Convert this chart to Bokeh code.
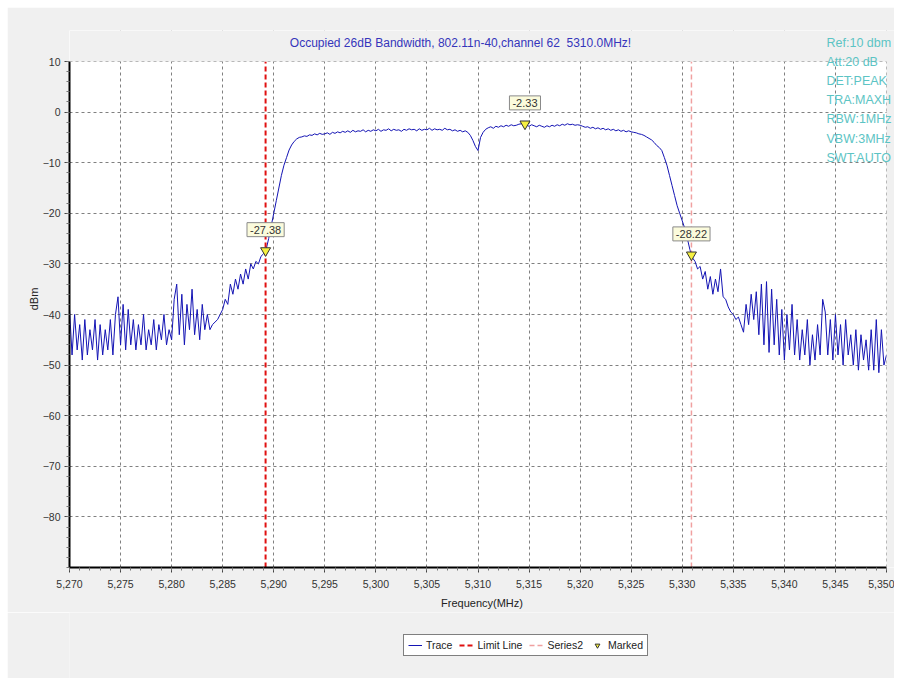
import numpy as np
from bokeh.plotting import figure
from bokeh.layouts import column
from bokeh.models import (Range1d, FixedTicker, NumeralTickFormatter, Label, Legend,
                          LegendItem, ColumnDataSource, BoxAnnotation)
from bokeh.embed import file_html
from bokeh.resources import INLINE

FONT = "Liberation Sans"

# ---- data -------------------------------------------------------------
title_text = "Occupied 26dB Bandwidth, 802.11n-40,channel 62\u00a0\u00a05310.0MHz!"
settings = ["Ref:10 dbm", "Att:20 dB", "DET:PEAK", "TRA:MAXH", "RBW:1MHz", "VBW:3MHz", "SWT:AUTO"]

f_start, f_step = 5270.0, 0.25  # sweep: 5270 .. 5350 MHz
trace_dbm = [
    # 5270.00 - 5274.75
    -39, -48, -40, -47, -42, -49, -41, -48, -43, -47, -41, -49, -42, -48, -43, -47, -41, -48, -40, -36.5,
    # 5275.00 - 5279.75
    -46, -38, -47, -39, -46, -41, -47, -42, -46, -40, -47, -43, -46, -41, -47, -42, -45, -40, -46, -43,
    # 5280.00 - 5284.75
    -45, -37, -34, -44, -36, -46, -38, -43, -35, -44, -39, -45, -38, -43, -40, -43, -42, -41.5, -41, -40,
    # 5285.00 - 5289.75
    -39, -37, -38, -34, -36, -33, -35, -32, -34, -31, -33, -30, -31, -29.5, -30, -28.5, -28, -27.2, -25, -22.5,
    # 5290.00 - 5294.75
    -20, -17.5, -15, -12.5, -10.5, -9, -7.5, -6.5, -5.8, -5.3, -5.0, -4.9, -4.7, -4.8, -4.5, -4.6, -4.3, -4.5, -4.2, -4.4,
    # 5295.00 - 5299.75
    -4.3, -4.1, -4.4, -4.0, -4.2, -3.9, -4.1, -3.8, -4.0, -3.7, -4.0, -3.6, -3.9, -3.7, -3.8, -3.5, -3.9, -3.6, -3.8, -3.5,
    # 5300.00 - 5304.75
    -3.7, -3.4, -3.8, -3.5, -3.6, -3.3, -3.7, -3.4, -3.6, -3.5, -3.8, -3.4, -3.6, -3.3, -3.5, -3.4, -3.7, -3.3, -3.6, -3.4,
    # 5305.00 - 5309.75
    -3.5, -3.2, -3.6, -3.3, -3.5, -3.4, -3.6, -3.2, -3.5, -3.4, -3.7, -3.5, -3.8, -3.6, -3.9, -3.7, -4.0, -4.6, -5.6, -6.8,
    # 5310.00 - 5314.75
    -7.6, -5.0, -4.0, -3.4, -3.1, -2.9, -3.2, -2.8, -3.0, -2.7, -2.9, -2.6, -2.8, -2.5, -2.7, -2.6, -2.4, -2.3, -2.5, -2.6,
    # 5315.00 - 5319.75
    -2.8, -2.5, -2.7, -2.9, -2.6, -2.8, -3.0, -2.7, -2.9, -2.6, -2.8, -2.5, -2.7, -2.4, -2.6, -2.3, -2.5, -2.4, -2.6, -2.5,
    # 5320.00 - 5324.75
    -2.6, -2.8, -3.0, -2.9, -3.2, -3.0, -3.3, -3.1, -3.4, -3.2, -3.5, -3.3, -3.6, -3.4, -3.7, -3.5, -3.8, -3.6, -3.9, -3.7,
    # 5325.00 - 5329.75
    -3.9, -4.0, -4.1, -4.3, -4.4, -4.6, -4.9, -5.2, -5.5, -6.0, -6.6, -7.0, -7.6, -9.0, -10.5, -12.5, -14.5, -16.5, -18.5, -20,
    # 5330.00 - 5334.75
    -21.5, -23, -25, -27.2, -28.8, -29.5, -31, -30.5, -33, -31.5, -35, -32.5, -36, -33, -35.5, -31, -36.5, -37, -38.5, -39.5,
    # 5335.00 - 5339.75
    -40, -41, -40.5, -42, -43.5, -38, -42, -36, -41, -35.5, -44, -34, -46, -33.5, -47.5, -35, -46, -37, -48, -39,
    # 5340.00 - 5344.75
    -49, -40, -47, -38, -48, -41, -49, -43, -48, -41, -50, -44, -49, -42, -48, -37, -39.5, -48, -41, -49,
    # 5345.00 - 5349.75
    -40, -48, -42, -50, -41, -48, -44, -50, -43, -51, -44, -49, -45, -51, -43, -51, -41, -51.5, -43, -50,
    # 5350.00
    -48,
]
trace_freq = f_start + f_step * np.arange(len(trace_dbm))

limit_freq = [5289.2]          # red dashed limit line
series2_freq = [5330.9]        # pink dashed line
marker_freq = [5289.2, 5314.6, 5330.9]
marker_dbm = [-27.38, -2.33, -28.22]
marker_text = ["-27.38", "-2.33", "-28.22"]
legend_labels = ["Trace", "Limit Line", "Series2", "Marked"]

x_lo, x_hi = 5270, 5350
y_lo, y_hi = -90, 10
x_ticks = list(range(5270, 5351, 5))
x_minor = list(range(5270, 5351, 1))
y_ticks = list(range(-80, 11, 10))
y_minor = list(range(-90, 11, 2))

# ---- styles -------------------------------------------------------------
GREY = "#f0f0f0"
TRACE_STYLE = dict(line_color="#1414b4", line_width=1)
LIMIT_STYLE = dict(line_color="#e01010", line_width=2, line_dash="5 3")
S2_STYLE = dict(line_color="#f0a0a0", line_width=1.5, line_dash="5 3")
MARK_STYLE = dict(marker="inverted_triangle", size=10, fill_color="#f6f040",
                  line_color="#333333", line_width=1)

# ---- layout (pixels) ----------------------------------------------------
PLOT_W, PLOT_H = 817, 506          # white plotting area
TOP_PAD, RIGHT_PAD = 31, 8          # grey strip inside the frame (title / settings)
LEFT_B, TOP_B, BOT_B = 62, 23, 45
y_top = y_hi + TOP_PAD * (y_hi - y_lo) / PLOT_H
x_right = x_hi + RIGHT_PAD * (x_hi - x_lo) / PLOT_W
FIG_W = LEFT_B + PLOT_W + RIGHT_PAD

p = figure(width=FIG_W, height=TOP_B + TOP_PAD + PLOT_H + BOT_B,
           output_backend="svg", toolbar_location=None,
           x_range=Range1d(x_lo, x_right), y_range=Range1d(y_lo, y_top),
           min_border_left=LEFT_B, min_border_right=0, min_border_top=TOP_B,
           min_border_bottom=BOT_B)
p.background_fill_color = "white"
p.border_fill_color = GREY
p.outline_line_color = None

for ax in (p.xaxis[0], p.yaxis[0]):
    ax.axis_line_width = 2
    ax.axis_line_color = "black"
    ax.major_tick_line_color = "#444444"
    ax.minor_tick_line_color = "#777777"
    ax.major_tick_out = 5
    ax.major_tick_in = 0
    ax.minor_tick_out = 3
    ax.minor_tick_in = 0
    ax.major_label_text_font = FONT
    ax.major_label_text_font_size = "10.5px"
    ax.major_label_text_color = "#333333"
    ax.axis_label_text_font = FONT
    ax.axis_label_text_font_size = "11px"
    ax.axis_label_text_font_style = "normal"
    ax.axis_label_text_color = "#222222"

p.xaxis.bounds = (x_lo, x_hi)
p.yaxis.bounds = (y_lo, y_hi)
p.xaxis.ticker = FixedTicker(ticks=x_ticks, minor_ticks=x_minor)
p.xaxis.formatter = NumeralTickFormatter(format="0,0")
p.xaxis.axis_label = "Frequency(MHz)"
p.xaxis.axis_label_standoff = 6
p.xaxis.major_label_standoff = 7
p.yaxis.ticker = FixedTicker(ticks=y_ticks, minor_ticks=y_minor)
p.yaxis.axis_label = "dBm"
p.yaxis.axis_label_standoff = 0
p.yaxis.major_label_standoff = 4

for g in (p.xgrid[0], p.ygrid[0]):
    g.grid_line_color = "#808080"
    g.grid_line_dash = "3 3"
    g.grid_line_width = 1

# grey strips (outside the 10 dBm / 5350 MHz limits) inside the frame
p.add_layout(BoxAnnotation(bottom=y_hi, fill_color=GREY, fill_alpha=1, line_color=None))
p.add_layout(BoxAnnotation(left=x_hi, fill_color=GREY, fill_alpha=1, line_color=None))

# trace
p.line(trace_freq, trace_dbm, **TRACE_STYLE)

# vertical lines
p.segment(x0="x", x1="x", y0=y_lo, y1=y_hi, source=ColumnDataSource(dict(x=limit_freq)), **LIMIT_STYLE)
p.segment(x0="x", x1="x", y0=y_lo, y1=y_hi, source=ColumnDataSource(dict(x=series2_freq)), **S2_STYLE)

# markers
p.scatter(marker_freq, marker_dbm, **MARK_STYLE)
for fx, fy, t in zip(marker_freq, marker_dbm, marker_text):
    p.add_layout(Label(x=fx, y=fy, text=t, y_offset=21, text_align="center",
                       text_baseline="middle", text_font=FONT, text_font_size="11px",
                       text_color="#333333", background_fill_color="#fbfbdc",
                       border_line_color="#8a8a8a", border_line_width=1, padding=3))

# title (screen units relative to frame bottom-left)
fb = TOP_PAD + PLOT_H  # frame height in px
p.add_layout(Label(x=391, y=fb - 12, x_units="screen", y_units="screen", text=title_text,
                   text_align="center", text_baseline="middle", text_font=FONT,
                   text_font_size="12px", text_color="#3535bb"))

# instrument settings at top right
for i, s in enumerate(settings):
    p.add_layout(Label(x=757, y=fb - 12 - 19.2 * i, x_units="screen", y_units="screen", text=s,
                       text_align="left", text_baseline="middle", text_font=FONT,
                       text_font_size="12.5px", text_color="#5cc4c4"))

# ---- legend strip below the chart ---------------------------------------
q = figure(width=FIG_W, height=66, output_backend="svg", toolbar_location=None,
           x_range=Range1d(0, 1), y_range=Range1d(0, 1),
           min_border_left=0, min_border_right=0, min_border_top=0, min_border_bottom=0)
q.axis.visible = False
q.grid.visible = False
q.background_fill_color = GREY
q.border_fill_color = GREY
q.outline_line_color = None
nan = [np.nan]
lr = [q.line(nan, nan, **TRACE_STYLE),
      q.line(nan, nan, **LIMIT_STYLE),
      q.line(nan, nan, **S2_STYLE),
      q.scatter(nan, nan, **{**MARK_STYLE, "size": 8})]
legend = Legend(items=[LegendItem(label=l, renderers=[r]) for l, r in zip(legend_labels, lr)],
                orientation="horizontal", location=(334, 22))
legend.label_text_font = FONT
legend.label_text_font_size = "10.5px"
legend.label_text_color = "#222222"
legend.glyph_width = 14
legend.glyph_height = 12
legend.label_height = 12
legend.label_standoff = 4
legend.spacing = 7
legend.padding = 4
legend.margin = 0
legend.border_line_color = "black"
legend.border_line_width = 1
legend.background_fill_color = "white"
legend.background_fill_alpha = 1
q.add_layout(legend)

layout = column(p, q, spacing=0)
layout.margin = (7, 7, 7, 7)
open("out.html", "w").write(file_html(layout, INLINE))
